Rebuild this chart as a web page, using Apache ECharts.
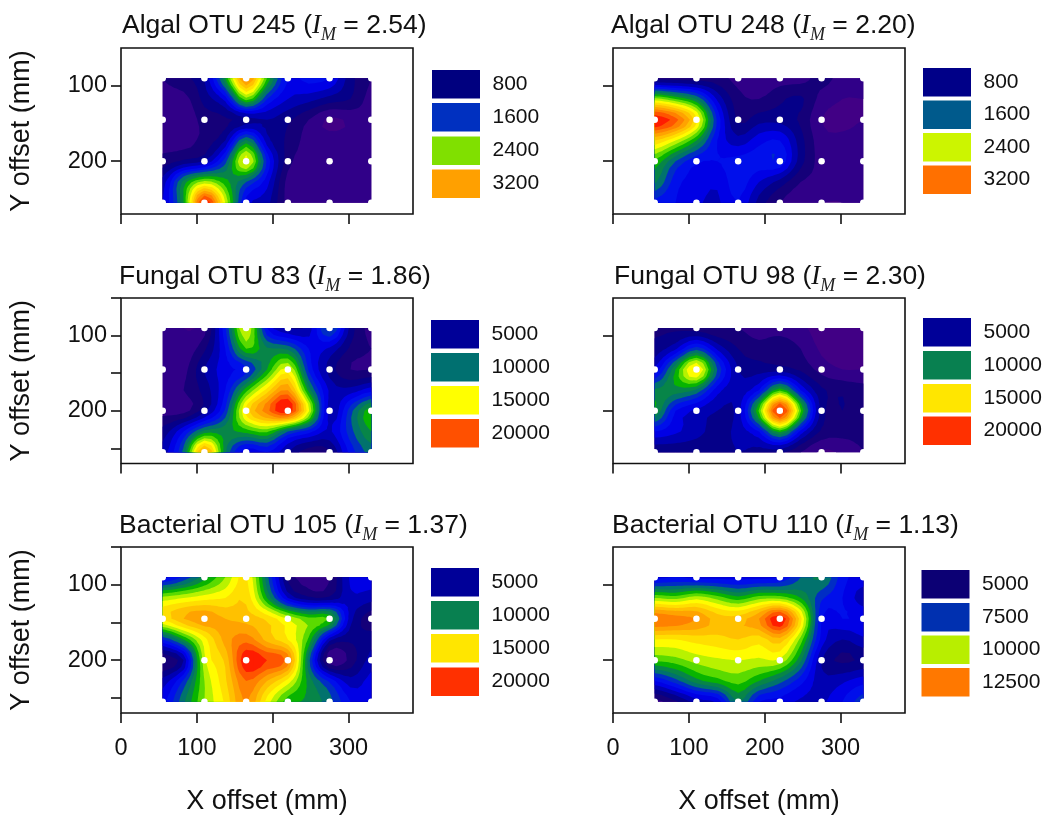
<!DOCTYPE html>
<html>
<head>
<meta charset="utf-8">
<style>html,body{margin:0;padding:0;background:#fff}#c{width:1045px;height:817px}</style>
<script src="https://cdn.jsdelivr.net/npm/echarts@6/dist/echarts.min.js"></script>
</head>
<body>
<div id="c"></div>
<script>
// Sampling grid (mm)
const gridX = [55,82.5,110,137.5,165,192.5,220,247.5,275,302.5,330];
const gridY = [90,117.5,145,172.5,200,227.5,255];
const dotX = [55,110,165,220,275,330];
const dotY = [90,145,200,255];
const xTicks = [0,100,200,300];

// Values, as % of each panel's colour scale
const algal245 = [
 [10,14,20,50,88,55,30,32,30,17,10],
 [8,8,17,27,58,35,25,22,18,15,8],
 [6,6,12,14,17,20,16,10,4,6,8],
 [8,8,12,20,46,22,14,8,7,7,8],
 [12,16,20,38,68,34,12,8,7,7,8],
 [22,47,62,52,40,27,8,6,7,6,9],
 [25,50,100,65,28,22,8,6,6,6,8]];
const algal248 = [
 [12,12,12,12,8,6,8,8,12,8,8],
 [62,55,45,24,12,10,14,16,8,5,5],
 [100,92,72,34,14,18,18,14,5,4,5],
 [75,65,50,30,22,28,30,17,7,6,7],
 [54,40,31,30,32,33,34,17,8,8,9],
 [46,32,28,26,33,25,18,10,8,7,8],
 [33,30,26,24,30,18,10,6,5,5,7]];
const fungal83 = [
 [8,5,8,34,66,30,20,22,42,18,8],
 [6,6,14,30,55,46,44,30,24,14,10],
 [6,8,20,28,33,50,67,34,18,10,10],
 [6,10,17,30,53,72,85,48,24,22,28],
 [8,8,18,36,72,88,100,66,22,38,54],
 [17,30,47,48,52,56,40,32,24,38,50],
 [22,42,85,46,26,30,20,12,14,32,42]];
const fungal98 = [
 [14,14,12,10,10,8,8,6,3,3,3],
 [17,24,38,24,15,12,14,10,4,2,3],
 [26,50,72,40,20,18,17,14,8,5,5],
 [46,48,44,27,22,30,54,30,16,14,12],
 [50,30,24,20,22,56,100,56,17,15,13],
 [30,26,22,18,22,30,52,28,14,12,12],
 [16,16,16,17,20,18,16,10,4,6,10]];
const bacterial105 = [
 [28,36,48,60,71,42,14,8,10,26,28],
 [62,65,68,70,74,50,25,16,16,24,22],
 [72,80,84,80,78,74,65,57,55,22,12],
 [35,50,68,82,88,78,70,54,22,16,18],
 [10,20,64,76,100,95,88,42,6,12,22],
 [22,36,60,74,90,80,68,48,34,22,27],
 [28,44,60,71,86,68,52,49,42,30,27]];
const bacterial110 = [
 [28,30,28,28,28,28,30,40,46,32,28],
 [60,58,63,58,52,58,58,50,36,30,22],
 [90,88,85,78,78,85,100,72,30,30,30],
 [70,70,72,73,75,72,78,58,28,20,24],
 [56,58,62,64,65,64,64,46,20,14,16],
 [30,38,48,53,57,50,42,32,22,24,28],
 [8,14,22,26,46,30,28,24,24,30,38]];

const titles = ['Algal OTU 245','Algal OTU 248','Fungal OTU 83','Fungal OTU 98','Bacterial OTU 105','Bacterial OTU 110'];
const moran = ['2.54','2.20','1.86','2.30','1.37','1.13'];
const legendLabels = [
 ['800','1600','2400','3200'],['800','1600','2400','3200'],
 ['5000','10000','15000','20000'],['5000','10000','15000','20000'],
 ['5000','10000','15000','20000'],['5000','7500','10000','12500']];
const legendColors = [
 ['#00007f','#0030c0','#80e000','#ffa000'],
 ['#000088','#005a8c','#ccf500','#ff7000'],
 ['#000098','#007070','#ffff00','#ff5000'],
 ['#000098','#088050','#ffe600','#ff3000'],
 ['#000098','#088050','#ffe600','#ff3000'],
 ['#0c0074','#0030b0','#b8ee00','#ff7800']];
const panelGrids = [algal245,algal248,fungal83,fungal98,bacterial105,bacterial110];

// Layout
const FONT = '"Liberation Sans", Arial, sans-serif';
const boxes = [
 {left:121,top:48,width:292,height:166},{left:613,top:48,width:292,height:166},
 {left:121,top:298,width:292,height:165.5},{left:613,top:298,width:292,height:165.5},
 {left:121,top:547,width:292,height:166},{left:613,top:547,width:292,height:166}];
const titlePos = [[122,8],[611,8],[119,259],[614,259],[119,508],[612,508]];
const legendPos = [
 {x:432,ys:[70,103,136.5,169.5]},{x:923,ys:[68,100.5,133,165.5]},
 {x:431,ys:[320,353,386,419]},{x:923,ys:[318,351,384,416.5]},
 {x:431,ys:[568,601,634,667.5]},{x:921.5,ys:[570,603,635.5,668]}];

// Colour ramp over 0..100
const ramp = [[0,'#4a0084'],[8,'#2e0088'],[14,'#0c0074'],[20,'#000098'],[30,'#0000ff'],[38,'#0030c0'],[42,'#007070'],[47,'#088050'],[52,'#00b000'],[57,'#50d800'],[62,'#b0f000'],[67,'#ffff00'],[75,'#ffd000'],[83,'#ffa000'],[90,'#ff7000'],[95,'#ff3800'],[100,'#ff0000']];
function hex(c){return [1,3,5].map(i=>parseInt(c.substr(i,2),16));}
function colorAt(t){
  for(let i=1;i<ramp.length;i++){
    if(t<=ramp[i][0]){
      const a=ramp[i-1],b=ramp[i],f=(t-a[0])/(b[0]-a[0]),ca=hex(a[1]),cb=hex(b[1]);
      return 'rgb('+ca.map((v,k)=>Math.round(v+(cb[k]-v)*f)).join(',')+')';
    }
  }
  return ramp[ramp.length-1][1];
}
const bandStep = 5;
const bands = [];
for(let l=0;l<100;l+=bandStep) bands.push(l);

// contour surface: Catmull-Rom between grid nodes, on a finer mesh
const SUB = 3;
function cr(a,b,c,d,f){return 0.5*(2*b+(c-a)*f+(2*a-5*b+4*c-d)*f*f+(3*b-a-3*c+d)*f*f*f);}
function surface(g){
  const nr=g.length,nc=g[0].length,at=(r,c)=>g[Math.max(0,Math.min(nr-1,r))][Math.max(0,Math.min(nc-1,c))];
  const mesh=[];
  for(let i=0;i<=(nr-1)*SUB;i++){
    const r=Math.min(Math.floor(i/SUB),nr-2),fr=i/SUB-r,row=[];
    for(let j=0;j<=(nc-1)*SUB;j++){
      const c=Math.min(Math.floor(j/SUB),nc-2),fc=j/SUB-c,col=[];
      for(let k=-1;k<=2;k++)col.push(cr(at(r+k,c-1),at(r+k,c),at(r+k,c+1),at(r+k,c+2),fc));
      row.push(cr(col[0],col[1],col[2],col[3],fr));
    }
    mesh.push(row);
  }
  return mesh;
}
function triangles(g){
  const m=surface(g),out=[];
  const X=j=>gridX[0]+(gridX[1]-gridX[0])*j/SUB, Y=i=>gridY[0]+(gridY[1]-gridY[0])*i/SUB;
  for(let i=0;i<m.length-1;i++)for(let j=0;j<m[0].length-1;j++){
    const A=[X(j),Y(i),m[i][j]],B=[X(j+1),Y(i),m[i][j+1]],C=[X(j+1),Y(i+1),m[i+1][j+1]],D=[X(j),Y(i+1),m[i+1][j]];
    const M=[(A[0]+B[0])/2,(A[1]+D[1])/2,(A[2]+B[2]+C[2]+D[2])/4];
    out.push([A,B,M],[B,C,M],[C,D,M],[D,A,M]);
  }
  return out;
}
// portion of a triangle with value >= level
function clipTri(tri,level){
  const res=[];
  for(let i=0;i<3;i++){
    const p=tri[i],q=tri[(i+1)%3];
    if(p[2]>=level)res.push(p);
    if((p[2]>=level)!==(q[2]>=level)){
      const f=(level-p[2])/(q[2]-p[2]);
      res.push([p[0]+(q[0]-p[0])*f,p[1]+(q[1]-p[1])*f,level]);
    }
  }
  return res;
}

const option={animation:false,backgroundColor:'#fff',title:[],grid:[],xAxis:[],yAxis:[],series:[],graphic:[]};
boxes.forEach((b,i)=>{
  const col=i%2,row=Math.floor(i/2),tris=triangles(panelGrids[i]);
  option.grid.push({left:b.left,top:b.top,width:b.width,height:b.height,show:true,borderColor:'#111',borderWidth:1.6,backgroundColor:'#fff'});
  const plain={fontFamily:FONT,fontWeight:'normal',fontSize:26.5,color:'#111',lineHeight:34,verticalAlign:'middle'};
  option.title.push({left:titlePos[i][0],top:titlePos[i][1],padding:0,
    text:'{a|'+titles[i]+' (}{i|I}{m|M}{a| = '+moran[i]+')}',
    textStyle:{fontWeight:'normal',rich:{
      a:plain,
      i:{fontFamily:'"Liberation Serif",serif',fontStyle:'italic',fontWeight:'normal',fontSize:27,color:'#111',lineHeight:34,verticalAlign:'middle'},
      m:{fontFamily:'"Liberation Serif",serif',fontStyle:'italic',fontWeight:'normal',fontSize:18,color:'#222',lineHeight:36,verticalAlign:'bottom'}
    }}});
  const bottom=row===2;
  option.xAxis.push({type:'value',gridIndex:i,min:0,max:385,position:'bottom',
    splitLine:{show:false},axisLine:{show:false},
    axisTick:{show:true,length:10,lineStyle:{color:'#111',width:1.6},customValues:xTicks},
    axisLabel:{show:bottom,customValues:xTicks,fontFamily:FONT,fontSize:23.5,color:'#111',margin:24,showMinLabel:true,showMaxLabel:true},
    name:bottom?'X offset (mm)':'',nameLocation:'middle',nameGap:75,
    nameTextStyle:{fontFamily:FONT,fontSize:27,color:'#111'}});
  const minor=(col===0&&row>0);
  const yTicks=minor?[50,100,150,200,250]:[100,200];
  option.yAxis.push({type:'value',gridIndex:i,min:50,max:270,inverse:true,position:'left',
    splitLine:{show:false},axisLine:{show:false},
    axisTick:{show:true,length:10,lineStyle:{color:'#111',width:1.6},customValues:yTicks},
    axisLabel:{show:col===0,customValues:[100,200],fontFamily:FONT,fontSize:23.5,color:'#111',margin:14,padding:[3,0,0,0]},
    name:col===0?'Y offset (mm)':'',nameLocation:'middle',nameGap:86,nameRotate:90,
    nameTextStyle:{fontFamily:FONT,fontSize:27,color:'#111'}});
  option.series.push({type:'custom',xAxisIndex:i,yAxisIndex:i,coordinateSystem:'cartesian2d',clip:false,silent:true,z:2,
    data:bands.map(l=>[l]),
    renderItem:function(params,api){
      const level=api.value(0),fill=colorAt(level+bandStep/2);
      let d='',x0=Infinity,y0=Infinity,x1=-Infinity,y1=-Infinity;
      tris.forEach(t=>{
        const poly=level===0?t:clipTri(t,level);
        if(poly.length<3)return;
        poly.forEach((p,k)=>{
          const c=api.coord([p[0],p[1]]);
          x0=Math.min(x0,c[0]);y0=Math.min(y0,c[1]);x1=Math.max(x1,c[0]);y1=Math.max(y1,c[1]);
          d+=(k?'L':'M')+c[0].toFixed(2)+' '+c[1].toFixed(2);
        });
        d+='Z';
      });
      if(!d)return null;
      return {type:'path',shape:{pathData:d,layout:'cover',x:x0,y:y0,width:x1-x0,height:y1-y0},style:{fill:fill}};
    }});
  const pts=[];
  dotY.forEach(y=>dotX.forEach(x=>pts.push([x,y])));
  option.series.push({type:'scatter',xAxisIndex:i,yAxisIndex:i,data:pts,symbolSize:6.5,silent:true,z:5,
    itemStyle:{color:'#fff',opacity:1}});
  const lp=legendPos[i];
  lp.ys.forEach((y,k)=>{
    option.graphic.push({type:'rect',shape:{x:lp.x,y:y,width:48,height:28.5},style:{fill:legendColors[i][k]},silent:true});
    option.graphic.push({type:'text',style:{x:lp.x+60.5,y:y+14,text:legendLabels[i][k],font:'21px '+FONT,fill:'#111',textVerticalAlign:'middle',verticalAlign:'middle'},silent:true});
  });
});
echarts.init(document.getElementById('c'),null,{renderer:'canvas'}).setOption(option);
</script>
</body>
</html>
